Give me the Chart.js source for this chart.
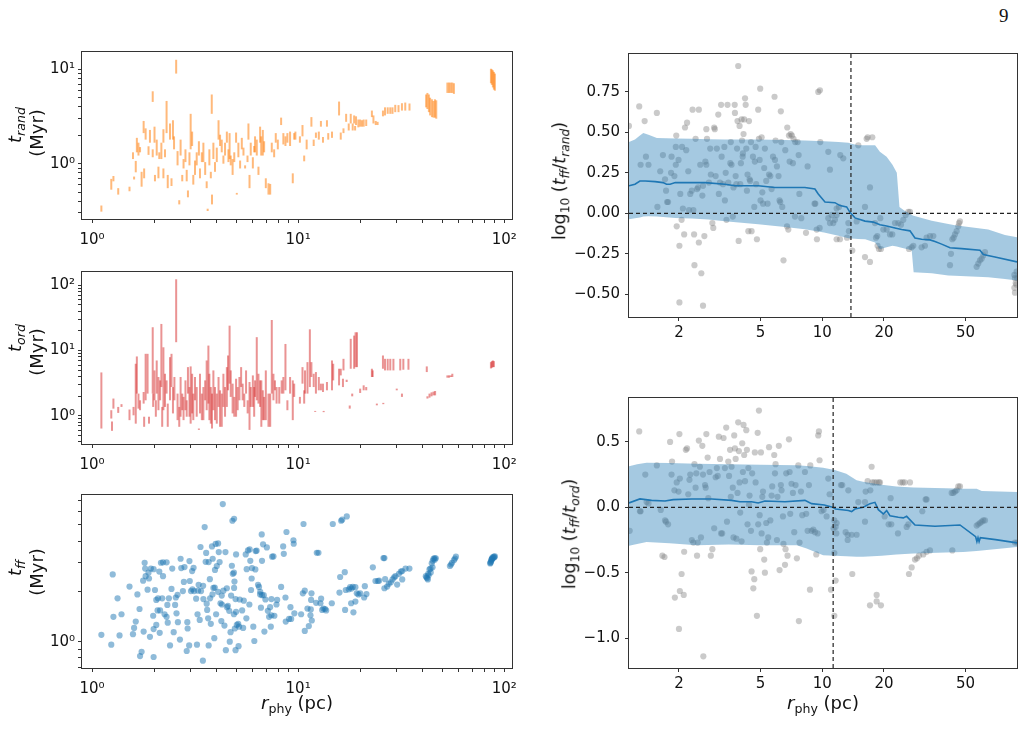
<!DOCTYPE html>
<html>
<head>
<meta charset="utf-8">
<script src="https://cdn.jsdelivr.net/npm/chart.js@4.4.1/dist/chart.umd.min.js"></script>
<style>
  body { margin: 0; background: #fff; width: 1028px; height: 742px; position: relative; overflow: hidden; font-family: 'DejaVu Sans', sans-serif; }
  canvas { position: absolute; }
  .lab { position: absolute; font-size: 18px; color: #111; white-space: nowrap; line-height: 1; transform: translate(-50%, -50%); z-index: 2; }
  .rot { transform: translate(-50%, -50%) rotate(-90deg); }
  .lab sub { font-size: 70%; vertical-align: -0.3em; line-height: 0; }
  .page { position: absolute; left: 999px; top: 5px; font-family: 'Liberation Serif', serif; font-size: 19px; color: #111; }
</style>
</head>
<body>
<div class="page">9</div>

<canvas id="pRand" width="525" height="215" style="left:0;top:40px"></canvas>
<canvas id="pOrd" width="525" height="215" style="left:0;top:260px"></canvas>
<canvas id="pFf" width="525" height="240" style="left:0;top:480px"></canvas>
<canvas id="pRatioRand" width="498" height="330" style="left:530px;top:40px"></canvas>
<canvas id="pRatioOrd" width="498" height="340" style="left:530px;top:380px"></canvas>

<div class="lab rot" style="left:15px;top:125px"><i>t</i><sub><i>rand</i></sub></div>
<div class="lab rot" style="left:37px;top:133px">(Myr)</div>
<div class="lab rot" style="left:15px;top:338px"><i>t</i><sub><i>ord</i></sub></div>
<div class="lab rot" style="left:37px;top:352px">(Myr)</div>
<div class="lab rot" style="left:15px;top:568px"><i>t</i><sub><i>ff</i></sub></div>
<div class="lab rot" style="left:37px;top:572px">(Myr)</div>
<div class="lab" style="left:297px;top:703px"><i>r</i><sub>phy</sub> (pc)</div>

<div class="lab rot" style="left:560px;top:181px;font-size:17.5px">log<sub>10</sub> (<i>t</i><sub><i>ff</i></sub>/<i>t</i><sub><i>rand</i></sub>)</div>
<div class="lab rot" style="left:570px;top:534px;font-size:17.5px">log<sub>10</sub> (<i>t</i><sub><i>ff</i></sub>/<i>t</i><sub><i>ord</i></sub>)</div>
<div class="lab" style="left:823px;top:703px"><i>r</i><sub>phy</sub> (pc)</div>

<script>
// ---- t_rand (orange bars) ----
const randR = [1.11,1.24,1.27,1.34,1.52,1.58,1.60,1.63,1.65,1.68,1.71,1.74,1.78,1.79,1.82,1.88,1.91,1.97,1.97,2.01,
  2.02,2.06,2.10,2.12,2.17,2.22,2.22,2.26,2.30,2.33,2.39,2.43,2.47,2.50,2.56,2.60,2.65,2.69,2.74,2.78,
  2.84,2.88,2.92,2.97,3.01,3.06,3.10,3.16,3.22,3.30,3.34,3.41,3.47,3.54,3.60,3.64,3.71,3.77,3.81,3.82,
  3.88,3.95,4.03,4.11,4.18,4.26,4.34,4.42,4.51,4.59,4.65,4.71,4.81,4.90,5.00,5.04,5.13,5.23,5.33,5.43,
  5.53,5.68,5.74,5.81,5.89,6.03,6.12,6.18,6.30,6.42,6.54,6.62,6.74,6.84,6.97,7.18,7.32,7.45,7.65,7.79,
  7.97,8.27,8.48,8.68,8.87,9.14,9.42,9.57,9.70,10.2,10.5,10.7,11.0,11.6,11.9,12.2,12.6,12.9,13.2,13.8,
  14.0,14.6,15.8,16.1,16.6,17.1,17.6,18.0,18.4,18.7,18.9,19.1,19.6,20.0,20.4,20.8,21.4,22.8,23.2,23.8,
  24.3,25.8,26.4,27.2,28.0,28.7,29.6,30.7,31.9,33.1,34.7,41.8,42.4,43.1,43.7,44.6,45.4,46.1,46.8,53.0,
  54.0,55.0,56.0,57.0,86.2,87.1,88.1,89.1,90.1];
const randLo = [0.31,0.53,0.65,0.47,0.51,1.12,0.68,0.81,1.32,1.22,1.32,0.57,2.11,0.70,1.80,1.24,1.67,4.52,1.17,1.67,
  0.65,1.22,0.70,1.12,1.12,1.67,0.70,1.17,2.11,0.55,1.80,0.58,1.80,1.42,9.03,0.96,0.37,1.22,0.65,0.89,
  1.04,0.65,0.44,0.96,1.42,1.54,0.60,0.76,0.96,1.22,0.70,1.04,1.04,0.76,0.55,0.315,0.96,0.70,3.38,0.37,
  1.12,0.82,1.04,1.80,1.54,1.32,1.00,1.22,1.67,1.04,1.12,0.96,0.76,1.04,1.67,0.47,1.17,0.89,1.42,1.22,
  0.89,1.04,1.80,0.55,1.22,0.89,1.32,1.32,1.22,0.76,1.67,1.22,1.22,1.32,0.55,0.47,0.47,1.32,1.17,1.67,
  1.42,2.57,1.60,1.54,1.67,1.54,0.62,1.80,1.80,1.67,1.95,1.06,1.42,2.47,1.54,1.88,1.80,2.47,1.67,2.47,
  1.80,1.88,3.25,1.80,2.11,2.78,2.25,2.67,2.25,2.67,2.25,2.57,2.43,2.47,2.47,2.47,2.51,3.12,2.67,2.57,
  2.57,3.18,3.25,3.38,3.38,3.38,3.52,3.52,3.66,3.66,3.66,3.96,3.80,3.52,3.25,3.12,3.08,3.08,3.00,5.63,
  5.63,5.63,5.63,5.50,7.13,6.86,6.44,6.10,5.95];
const randHi = [0.36,0.69,0.74,0.55,0.57,1.32,0.73,1.07,1.88,1.67,1.50,0.82,2.84,0.89,2.37,1.53,2.28,5.86,1.42,2.47,
  0.76,1.80,0.93,1.32,1.67,2.32,0.89,1.42,4.63,0.76,2.67,0.70,2.89,1.95,12.65,1.36,0.41,1.80,0.76,1.12,
  1.42,0.86,0.52,1.32,3.38,2.19,0.76,1.08,1.32,1.73,0.89,1.32,1.67,1.04,0.65,0.333,1.42,0.82,5.42,0.47,
  1.67,1.04,1.48,2.89,2.03,1.80,1.22,1.67,2.19,1.42,2.11,1.22,1.12,1.32,2.14,0.49,1.67,1.08,1.88,1.48,
  0.96,1.22,2.67,0.76,1.67,1.17,1.54,1.95,1.80,0.93,2.47,1.95,2.28,1.73,0.70,0.62,0.61,1.67,1.42,2.11,
  1.80,3.08,2.11,1.95,2.11,2.19,0.79,2.11,2.19,1.95,2.57,1.22,1.80,3.12,1.80,2.14,2.19,2.84,1.92,2.89,
  2.11,2.19,4.56,2.14,2.37,3.38,2.67,3.38,2.67,3.25,2.51,3.18,2.94,2.94,2.89,2.94,2.94,3.66,3.25,2.84,
  2.78,3.66,3.96,3.96,3.96,3.96,4.21,4.18,4.38,4.45,4.35,5.42,5.63,5.42,5.01,4.82,4.63,4.82,4.70,7.25,
  7.25,7.25,7.25,7.13,10.16,10.0,9.77,9.40,9.03];

// ---- t_ord (red bars) ----
const ordR = [1.11,1.24,1.25,1.27,1.34,1.39,1.52,1.59,1.63,1.65,1.68,1.71,1.78,1.79,1.82,1.86,1.89,1.97,1.98,2.01,
  2.04,2.06,2.10,2.14,2.17,2.19,2.22,2.26,2.30,2.33,2.39,2.43,2.47,2.51,2.56,2.60,2.65,2.69,2.74,2.78,
  2.84,2.88,2.92,2.97,3.01,3.06,3.10,3.16,3.22,3.30,3.34,3.41,3.47,3.54,3.60,3.67,3.71,3.77,3.82,3.88,
  3.95,4.03,4.11,4.18,4.26,4.34,4.42,4.51,4.57,4.65,4.71,4.81,4.90,5.00,5.09,5.19,5.29,5.38,5.48,5.59,
  5.69,5.81,5.89,6.03,6.12,6.18,6.30,6.42,6.54,6.63,6.74,6.84,6.97,7.18,7.32,7.45,7.59,7.72,7.86,8.10,
  8.32,8.48,8.68,8.87,9.14,9.42,9.57,10.2,10.5,10.7,10.8,11.1,11.4,11.6,11.9,12.1,12.2,12.6,12.9,13.2,
  13.3,13.8,14.6,14.8,15.8,16.1,16.5,16.6,17.2,17.8,18.0,18.3,18.7,19.0,19.3,20.0,20.8,21.4,22.8,23.0,
  24.1,25.8,25.9,26.4,27.2,28.0,29.0,30.1,31.3,31.9,32.4,34.3,42.1,42.4,43.4,44.4,45.4,46.2,53.0,54.0,
  55.0,56.0,86.2,87.1,88.1,89.1];
const ordLo = [0.64,0.91,0.59,1.29,1.11,1.37,0.86,1.02,0.76,2.19,1.29,1.22,1.54,0.68,1.73,2.19,0.76,2.19,1.37,1.73,
  0.97,2.19,1.22,1.73,2.76,0.68,1.22,1.37,2.19,0.68,1.73,2.76,1.09,1.73,13.4,0.86,0.68,0.97,1.22,0.86,
  1.22,0.97,2.19,0.97,0.76,1.09,0.86,1.73,0.97,0.61,1.09,0.86,0.86,1.73,1.22,1.54,0.86,0.76,0.64,1.22,
  0.86,0.76,1.37,0.68,0.68,1.37,0.97,1.37,2.46,3.11,1.95,1.09,0.97,0.97,1.22,1.73,2.76,1.73,1.37,2.19,
  1.09,0.61,1.37,1.37,0.97,1.95,1.73,1.54,1.37,0.68,0.86,0.86,0.86,0.68,0.68,2.19,1.73,2.46,1.54,1.54,
  2.19,2.19,2.46,1.22,2.19,0.86,1.95,1.54,3.11,1.54,2.19,2.19,2.76,3.93,2.76,1.15,2.19,2.46,2.46,2.32,
  1.14,2.46,2.46,3.49,2.93,4.16,2.76,4.96,3.30,1.29,5.26,1.99,5.26,5.57,5.57,2.24,2.46,2.46,3.93,3.93,
  1.45,5.26,1.51,4.96,4.96,4.96,4.96,2.46,4.96,1.95,5.08,5.08,4.68,1.84,1.90,1.99,2.06,2.06,3.84,3.84,
  3.93,3.93,5.32,5.45,5.57,5.57];
const ordHi = [4.62,1.22,0.82,1.84,1.37,1.51,1.25,1.37,6.27,8.11,2.19,1.73,2.32,0.97,8.90,8.90,0.97,22.7,2.19,4.96,
  1.73,7.04,3.93,3.49,25.5,1.37,11.2,4.41,3.49,1.54,7.91,8.90,2.76,3.93,123,2.19,1.37,3.93,2.19,1.95,
  3.49,1.73,5.57,2.76,5.71,4.41,2.19,3.93,2.76,0.64,4.41,2.19,2.76,3.49,7.04,11.9,4.41,2.76,2.19,4.96,
  2.76,2.19,3.93,2.46,2.19,4.41,2.76,5.57,8.39,24.0,4.96,3.11,1.95,3.70,2.76,3.93,5.57,3.11,2.19,4.96,
  1.73,3.30,2.76,4.16,2.76,3.49,16.0,4.41,3.49,3.49,2.46,1.95,4.96,2.19,2.19,29.3,4.41,3.49,2.76,2.76,
  3.49,3.93,12.6,1.73,3.93,3.49,3.11,1.95,5.57,2.46,4.96,6.64,21.1,6.64,4.41,1.19,4.68,3.93,3.11,3.11,
  1.19,3.30,7.04,6.27,5.26,5.26,3.70,7.46,3.57,1.44,15.1,2.19,16.9,19.0,19.0,2.61,2.93,2.76,5.26,4.96,
  1.54,8.39,1.58,7.46,7.46,7.46,7.46,2.61,7.46,2.19,7.46,7.46,5.71,1.99,2.19,2.29,2.35,2.40,4.16,4.16,
  4.16,4.41,6.64,6.88,7.04,6.88];

// ---- t_ff (blue points) ----
const ffR = [1.11,1.24,1.26,1.27,1.33,1.36,1.39,1.52,1.58,1.60,1.63,1.66,1.70,1.71,1.74,1.78,1.77,1.80,1.81,1.82,
  1.86,1.88,1.89,1.91,1.93,1.98,1.99,1.99,1.99,2.02,2.05,2.05,2.08,2.09,2.12,2.13,2.14,2.16,2.19,2.21,
  2.21,2.25,2.30,2.30,2.32,2.33,2.36,2.39,2.43,2.45,2.49,2.53,2.55,2.57,2.60,2.61,2.67,2.69,2.71,2.76,
  2.79,2.81,2.88,2.90,2.91,2.96,2.97,2.98,3.02,3.06,3.07,3.11,3.13,3.20,3.23,3.25,3.27,3.29,3.33,3.36,
  3.38,3.45,3.46,3.47,3.52,3.56,3.58,3.60,3.62,3.66,3.68,3.68,3.73,3.74,3.77,3.82,3.84,3.85,3.88,3.92,
  3.94,3.95,3.98,4.00,4.03,4.09,4.09,4.12,4.16,4.20,4.24,4.26,4.27,4.31,4.34,4.39,4.44,4.46,4.51,4.52,
  4.56,4.63,4.66,4.70,4.73,4.77,4.80,4.82,4.88,4.88,4.89,4.89,4.91,4.93,4.97,4.97,5.00,5.00,5.04,5.12,
  5.14,5.17,5.21,5.35,5.41,5.45,5.57,5.61,5.63,5.71,5.80,5.82,5.86,5.91,5.95,5.97,6.06,6.13,6.20,6.22,
  6.29,6.39,6.46,6.54,6.55,6.60,6.66,6.68,6.68,6.76,6.81,6.86,6.94,7.05,7.13,7.23,7.31,7.37,7.42,7.42,
  7.48,7.59,7.67,7.85,7.91,8.27,8.46,8.52,8.68,8.71,8.78,9.04,9.18,9.25,9.49,9.52,9.59,
  10.34,10.54,10.62,10.77,10.77,11.10,11.27,11.48,11.52,11.56,11.61,11.65,12.23,12.32,12.55,12.83,12.93,13.08,13.27,13.52,
  13.68,14.57,14.73,15.87,15.99,16.17,16.36,16.84,16.90,17.03,17.22,17.62,17.88,18.08,18.15,18.41,18.55,18.96,18.96,19.26,
  19.63,20.00,20.91,21.07,21.46,23.04,23.73,24.36,24.72,25.95,26.23,26.23,26.43,27.04,27.55,28.17,28.71,29.24,29.66,30.24,
  30.83,31.50,31.99,31.99,33.20,34.67,41.66,41.97,42.61,42.75,43.38,43.88,44.89,45.39,45.91,46.57,54.5,55.8,57.0,58.3,
  85.50,86.48,87.10,87.76,89.10,90.1,44.0,44.5,45.0,46.0,42.3,43.0,55.2,57.7,86.0,86.8,88.5,89.5,87.3,85.8];
const ffT = [1.10,0.96,2.53,1.41,1.82,1.09,1.46,2.14,1.11,1.21,1.32,1.92,1.57,0.82,0.87,1.15,2.32,2.97,2.74,2.47,
  2.05,2.59,2.39,1.07,2.74,1.43,2.72,0.81,1.19,2.04,1.78,1.26,1.54,1.82,2.63,1.13,1.54,2.97,1.82,2.47,
  2.99,1.46,1.41,2.99,1.66,1.30,1.82,0.95,2.07,2.74,1.14,1.66,1.84,1.48,1.91,1.31,1.03,3.14,2.76,2.01,
  2.28,2.80,0.88,1.31,1.20,0.95,3.04,2.31,2.01,2.65,2.06,2.77,2.01,1.81,0.96,1.46,2.02,2.19,1.35,3.69,
  2.01,0.77,2.16,1.80,4.86,3.01,3.40,1.69,1.55,1.38,0.95,3.00,2.37,1.82,1.28,3.72,1.92,3.14,2.10,1.05,
  2.11,2.69,3.85,1.46,2.84,3.88,1.99,3.44,3.00,1.70,1.33,1.89,1.67,6.67,2.02,1.25,3.44,0.89,2.09,1.61,
  1.64,1.53,1.00,1.14,1.89,2.85,5.30,2.55,2.59,1.46,5.45,2.10,2.29,1.20,1.80,0.89,3.33,1.51,1.26,1.28,
  0.94,1.23,1.79,1.54,1.21,1.76,3.33,1.38,2.72,3.52,1.67,3.57,3.05,2.04,2.39,2.76,1.23,1.01,2.71,3.49,
  3.51,2.19,2.13,1.92,1.99,1.60,4.39,3.05,1.90,3.83,1.90,1.15,1.79,3.67,1.53,1.41,1.61,1.23,1.44,1.80,
  3.23,3.24,1.43,1.67,1.78,2.13,3.72,3.36,1.84,1.32,4.54,1.37,1.61,1.37,4.05,3.86,1.48,
  1.46,1.95,5.07,2.02,1.16,1.58,1.24,1.44,1.56,1.78,1.95,1.34,1.71,3.41,3.41,1.70,1.81,1.55,1.58,1.57,
  1.54,1.70,5.07,1.97,2.44,5.30,5.38,2.61,1.55,2.04,5.63,2.06,2.12,1.70,2.08,2.13,1.50,2.12,1.74,1.95,
  1.92,1.95,1.84,2.15,1.93,2.79,2.31,2.31,2.32,3.17,3.17,2.09,2.37,2.14,2.22,2.27,2.36,2.43,2.47,2.20,
  2.55,2.63,2.36,2.65,2.74,2.74,2.47,2.43,2.36,2.55,2.71,2.74,2.79,3.14,3.17,3.16,2.84,2.97,3.08,3.23,
  2.94,3.05,3.14,3.20,3.23,3.24,2.60,2.95,3.05,3.10,2.40,2.50,2.90,3.15,3.00,3.10,3.18,3.20,3.12,2.97];

// ---- log10(t_ff/t_rand) ----
const ratioRandR = [1.14,1.28,1.30,1.36,1.38,1.42,1.56,1.57,1.62,1.67,1.71,1.73,1.75,1.77,1.83,1.84,1.90,1.93,1.93,1.94,
  1.95,1.99,2.01,2.03,2.06,2.07,2.09,2.12,2.14,2.17,2.19,2.22,2.24,2.27,2.31,2.33,2.35,2.37,2.38,2.41,
  2.45,2.48,2.50,2.50,2.54,2.57,2.60,2.62,2.66,2.69,2.72,2.72,2.74,2.80,2.84,2.86,2.91,2.94,2.97,2.99,
  3.02,3.06,3.11,3.13,3.17,3.21,3.23,3.28,3.33,3.35,3.38,3.41,3.45,3.48,3.56,3.58,3.61,3.66,3.69,3.74,
  3.75,3.78,3.81,3.84,3.86,3.89,3.91,3.95,3.98,4.01,4.04,4.06,4.09,4.10,4.13,4.16,4.20,4.23,4.26,4.29,
  4.32,4.36,4.39,4.42,4.45,4.49,4.52,4.59,4.66,4.69,4.73,4.76,4.80,4.87,4.91,4.95,4.98,5.00,5.06,5.10,
  5.14,5.21,5.25,5.33,5.41,5.50,5.58,5.66,5.75,5.85,5.88,5.92,6.01,6.12,6.19,6.24,6.28,6.31,6.38,6.47,
  6.60,6.73,6.75,6.83,6.88,6.93,7.01,7.11,7.19,7.24,7.36,7.38,7.58,7.67,7.73,7.90,8.33,8.48,9.17,9.25,
  9.42,9.56,9.74,9.78,2.01,2.62,
  9.39,9.71,10.70,10.90,11.75,12.06,12.24,12.66,10.70,10.90,11.11,11.53,11.75,11.32,11.75,12.20,13.40,13.49,13.20,14.01,
  14.71,14.99,16.16,16.16,16.46,16.65,17.09,17.09,17.54,18.07,18.28,18.55,18.62,18.90,19.33,19.19,19.85,20.61,21.39,21.96,
  22.63,23.49,24.21,24.85,25.51,26.29,26.78,26.48,27.29,27.80,30.52,31.69,32.28,33.53,34.81,42.45,41.97,43.09,43.74,44.40,
  45.23,46.09,46.44,46.96,56.62,57.69,58.79,59.90,61.03,62.18,86.5,87.1,87.8,88.4,87.1,86.5,88.7,89.4];
const ratioRandV = [0.54,0.66,0.30,0.57,0.35,0.30,0.62,0.04,0.26,0.36,0.21,0.14,0.07,0.07,0.25,0.35,0.23,0.30,0.41,0.48,
  -0.08,0.33,-0.20,0.12,-0.04,0.41,0.03,-0.13,0.53,0.39,0.56,0.26,0.02,0.12,0.14,0.64,0.02,-0.13,-0.32,0.46,
  0.15,0.16,0.64,-0.18,0.30,-0.37,0.11,0.17,-0.14,0.32,0.30,0.52,0.46,0.19,0.40,0.24,-0.06,-0.09,0.53,0.52,
  0.23,0.40,0.61,0.12,0.19,0.67,0.35,0.18,0.41,0.08,0.25,-0.04,0.67,0.19,0.31,0.44,0.30,-0.02,0.16,0.67,
  0.62,0.23,0.18,0.40,0.57,0.91,-0.17,0.54,0.18,0.31,0.58,0.45,0.35,0.37,0.49,0.58,0.71,0.67,0.40,0.14,
  0.24,-0.11,0.57,0.21,0.20,0.44,-0.11,0.35,0.04,0.32,0.41,0.18,-0.16,0.64,0.46,0.33,0.77,0.08,0.47,0.13,
  0.06,0.28,0.40,0.20,0.06,0.24,0.23,0.15,0.35,0.72,0.33,0.45,0.29,0.23,0.08,0.07,0.63,0.44,0.04,-0.29,
  0.39,-0.08,0.53,-0.10,0.48,0.32,0.49,0.48,0.31,0.46,-0.02,0.44,0.44,0.36,0.12,-0.03,-0.12,0.29,0.06,0.06,
  -0.16,0.75,0.76,0.44,-0.55,-0.57,
  -0.10,-0.09,0.38,0.27,0.03,0.04,0.36,0.34,-0.03,-0.06,-0.01,-0.04,-0.01,-0.06,-0.16,-0.16,-0.06,-0.11,-0.15,-0.23,
  -0.05,0.42,0.04,-0.27,0.46,0.47,-0.30,0.16,0.47,-0.06,-0.15,-0.14,-0.20,-0.22,-0.22,-0.03,-0.10,-0.10,-0.13,-0.13,
  -0.06,-0.06,-0.07,-0.04,-0.01,0.01,0.01,-0.22,-0.21,-0.20,-0.21,-0.20,-0.15,-0.14,-0.14,-0.25,-0.32,-0.16,-0.15,-0.13,
  -0.11,-0.08,-0.06,-0.05,-0.33,-0.31,-0.29,-0.28,-0.26,-0.24,-0.38,-0.40,-0.43,-0.44,-0.49,-0.46,-0.36,-0.40];
const medRandR = [1.14,1.22,1.29,1.37,1.53,1.67,1.74,1.81,1.92,2.31,2.68,3.35,3.75,4.87,5.88,8.23,9.21,9.56,10.31,11.53,
  12.20,13.15,13.65,14.44,16.16,17.74,19.12,20.61,22.63,24.38,26.78,28.33,30.52,33.53,35.46,38.22,41.97,47.86,58.79,61.03,
  69.57,89.1];
const medRandV = [0.17,0.18,0.20,0.20,0.196,0.19,0.18,0.18,0.19,0.19,0.19,0.18,0.17,0.17,0.16,0.16,0.15,0.12,0.07,0.066,
  0.048,0.04,0.006,-0.028,-0.048,-0.054,-0.07,-0.078,-0.09,-0.10,-0.108,-0.152,-0.16,-0.164,-0.174,-0.19,-0.212,-0.218,-0.228,-0.254,
  -0.27,-0.30];
const bandRandR = [1.14,1.22,1.29,1.34,1.42,1.56,1.92,2.31,2.78,3.35,4.87,6.58,8.23,10.2,12.0,13.4,13.9,15.0,16.2,18.1,
  19.1,20.6,22.0,23.1,23.8,24.9,27.3,27.9,34.2,41.2,44.4,64.5,77.8,89.1];
const bandRandHi = [0.44,0.456,0.48,0.496,0.486,0.466,0.462,0.46,0.458,0.456,0.456,0.453,0.45,0.446,0.44,0.436,0.43,0.42,0.42,0.42,
  0.38,0.35,0.30,0.25,0.04,0.02,-0.01,-0.015,-0.045,-0.065,-0.074,-0.10,-0.134,-0.148];
const bandRandLo = [-0.036,-0.03,-0.025,-0.02,-0.018,-0.02,-0.028,-0.032,-0.038,-0.048,-0.068,-0.084,-0.098,-0.118,-0.138,-0.154,-0.156,-0.158,-0.16,-0.18,
  -0.222,-0.21,-0.20,-0.205,-0.21,-0.215,-0.228,-0.364,-0.37,-0.384,-0.386,-0.395,-0.405,-0.414];
const cutRand = 13.8;

// ---- log10(t_ff/t_ord) ----
const ratioOrdR = [1.15,1.28,1.29,1.30,1.37,1.39,1.42,1.56,1.63,1.66,1.70,1.71,1.73,1.77,1.81,1.84,1.85,1.90,1.91,1.95,
  1.99,2.00,2.01,2.02,2.02,2.06,2.11,2.12,2.16,2.19,2.22,2.25,2.27,2.31,2.35,2.38,2.41,2.43,2.45,2.47,
  2.50,2.53,2.56,2.60,2.62,2.68,2.70,2.72,2.76,2.78,2.82,2.86,2.91,2.97,3.02,3.06,3.09,3.13,3.17,3.21,
  3.25,3.30,3.35,3.40,3.43,3.48,3.51,3.55,3.58,3.61,3.66,3.69,3.72,3.75,3.78,3.81,3.86,3.89,3.92,3.95,
  3.98,4.04,4.07,4.10,4.13,4.16,4.20,4.26,4.29,4.32,4.36,4.39,4.42,4.49,4.52,4.55,4.61,4.66,4.69,4.73,
  4.80,4.84,4.87,4.91,4.95,4.98,5.02,5.06,5.10,5.14,5.21,5.25,5.33,5.37,5.45,5.50,5.58,5.66,5.70,5.83,
  5.88,5.92,6.01,6.05,6.14,6.19,6.28,6.33,6.43,6.47,6.58,6.62,6.67,6.77,6.88,6.93,6.98,7.08,7.19,7.30,
  7.41,7.52,7.64,7.69,7.75,7.87,7.99,8.23,8.35,8.48,8.61,8.71,8.74,8.87,9.04,9.21,9.35,9.49,9.56,9.63,
  9.70,9.92,10.15,2.63,
  10.70,10.86,11.03,11.45,11.62,11.75,11.45,11.62,11.71,11.45,11.36,10.50,12.34,12.52,13.40,13.00,13.30,13.30,13.91,14.01,
  14.71,14.99,16.16,16.16,16.28,16.65,17.15,17.41,17.54,17.94,18.42,18.90,19.12,17.09,18.42,18.42,19.33,20.15,21.07,21.55,
  21.71,23.40,24.02,24.66,25.22,26.78,26.48,27.29,28.33,28.97,29.63,31.11,32.28,33.53,25.8,26.29,30.76,31.93,32.28,42.76,
  43.57,44.40,45.23,46.09,46.96,43.09,56.62,57.69,58.79,59.90,61.03,62.18,87.1,89.4];
const ratioOrdV = [-0.18,0.58,-0.03,-0.03,0.25,0.04,0.03,0.32,-0.02,-0.37,-0.38,-0.10,-0.11,-0.13,0.50,0.25,0.35,0.13,-0.69,0.19,
  0.12,-0.93,0.56,-0.64,0.22,-0.51,-0.67,-0.34,0.44,0.45,0.10,0.21,0.25,-0.25,-0.27,0.33,0.15,0.26,-0.37,-0.27,
  0.51,0.31,-0.23,0.47,0.25,0.17,0.15,0.56,0.38,0.07,0.27,-0.37,-0.32,-0.16,0.23,0.30,0.24,0.54,0.37,-0.20,
  -0.20,0.53,0.30,0.61,-0.11,0.35,0.24,0.44,0.08,0.31,0.15,-0.23,0.55,0.45,0.37,-0.24,0.11,0.65,0.43,0.19,
  -0.04,-0.26,0.49,0.27,0.63,0.40,0.20,0.59,0.44,-0.13,0.30,0.02,0.09,-0.18,-0.49,0.26,-0.62,-0.55,0.42,0.19,
  -0.83,0.57,-0.13,0.74,-0.06,-0.32,0.42,-0.20,0.08,0.12,-0.40,-0.50,-0.12,-0.27,-0.23,0.46,-0.10,0.09,0.16,0.40,
  0.26,0.33,-0.25,0.08,0.47,-0.48,0.17,0.13,-0.07,-0.28,-0.44,-0.32,0.26,-0.37,0.52,0.27,-0.05,0.18,0.11,-0.19,
  0.17,-0.39,0.32,-0.87,-0.27,0.12,-0.06,0.27,-0.05,-0.18,0.17,-0.63,0.32,-0.18,-0.17,-0.19,-0.36,-0.20,0.55,0.58,
  0.36,-0.03,-0.02,-1.14,
  0.22,0.10,-0.63,-0.83,-0.56,-0.12,-0.10,-0.15,-0.20,-0.35,-0.16,-0.07,0.17,0.17,0.13,-0.19,-0.25,-0.21,-0.21,-0.51,
  -0.21,0.04,0.04,-0.11,0.12,0.20,0.13,0.31,0.19,0.19,0.19,0.19,0.19,-0.75,-0.67,-0.72,-0.75,-0.07,-0.13,0.07,
  -0.13,-0.20,0.19,0.19,0.19,0.19,-0.51,-0.46,-0.40,-0.39,-0.37,-0.36,-0.34,-0.33,-0.15,-0.13,-0.03,0.06,0.06,0.11,
  0.11,0.12,0.13,0.16,0.16,-0.33,-0.14,-0.13,-0.12,-0.11,-0.10,-0.10,-0.27,-0.27];
const medOrdR = [1.14,1.29,1.47,1.71,1.875,2.31,2.89,3.61,3.97,4.52,4.87,5.25,6.58,8.23,8.87,10.23,11.11,11.62,13.40,13.91,
  14.43,15.85,17.09,18.07,18.77,19.85,20.61,21.39,23.49,24.85,25.8,28.33,35.46,46.96,56.0,56.8,57.5,58.2,59.0,70.0,
  89.1];
const medOrdV = [0.033,0.064,0.053,0.048,0.059,0.064,0.064,0.053,0.043,0.043,0.033,0.048,0.043,0.053,0.028,0.018,0.003,-0.013,-0.025,-0.033,
  -0.013,0.0,0.028,0.038,-0.018,-0.051,-0.025,-0.064,-0.076,-0.081,-0.069,-0.135,-0.145,-0.135,-0.225,-0.262,-0.232,-0.262,-0.232,-0.247,
  -0.272];
const bandOrdR = [1.14,1.25,1.39,1.8,2.44,3.5,5.0,7.5,8.39,10.1,11.5,13.1,14.7,15.8,19.5,23.0,27.8,40,48.8,56.6,60,89.1];
const bandOrdHi = [0.313,0.33,0.341,0.338,0.333,0.33,0.326,0.321,0.315,0.303,0.285,0.257,0.206,0.195,0.173,0.16,0.152,0.145,0.142,0.142,0.125,0.117];
const bandOrdLo = [-0.295,-0.28,-0.265,-0.275,-0.29,-0.285,-0.29,-0.29,-0.316,-0.366,-0.37,-0.375,-0.378,-0.379,-0.37,-0.36,-0.354,-0.345,-0.341,-0.335,-0.33,-0.303];
const cutOrd = 11.3;

// ---- ticks ----
const leftXTicks = [1,2,3,4,5,6,7,8,9,10,20,30,40,50,60,70,80,90,100];
const randYTicks = [0.3,0.4,0.5,0.6,0.7,0.8,0.9,1,2,3,4,5,6,7,8,9,10];
const ordYTicks = [0.4,0.5,0.6,0.7,0.8,0.9,1,2,3,4,5,6,7,8,9,10,20,30,40,50,60,70,80,90,100];
const ffYTicks = [0.7,0.8,0.9,1,2,3,4,5,6,7];
const powerLabels = {1: '10\u2070', 10: '10\u00b9', 100: '10\u00b2'};
const ratioXTicks = [2,5,10,20,50];
const randRatioTicks = [-0.5,-0.25,0,0.25,0.5,0.75];
const ordRatioTicks = [-1,-0.5,0,0.5];

Chart.defaults.font.family = "'DejaVu Sans', sans-serif";

const frame = {
  id: 'frame',
  afterDraw(chart) {
    const {ctx, chartArea: a} = chart;
    ctx.save();
    ctx.strokeStyle = '#333';
    ctx.lineWidth = 1;
    ctx.strokeRect(Math.round(a.left) - 0.5, Math.round(a.top) - 0.5, Math.round(a.right - a.left) + 1, Math.round(a.bottom - a.top) + 1);
    ctx.restore();
  }
};

function axis(type, min, max, values, fmt, size, isY, pad) {
  return {
    type, min, max, bounds: 'data',
    grid: {drawOnChartArea: false, drawTicks: true, tickLength: 4, color: '#333'},
    border: {display: false},
    ticks: {color: '#111', font: {size: 15}, autoSkip: false, maxRotation: 0, padding: pad, callback: fmt},
    afterBuildTicks: s => { s.ticks = values.filter(v => v >= min && v <= max).map(v => ({value: v})); },
    afterFit: s => { if (isY) s.width = size; else s.height = size; }
  };
}

const powerLabel = v => powerLabels[v] || '';
const minus = (v, d) => (v < 0 ? '\u2212' : '') + Math.abs(v).toFixed(d);

function bars(r, lo, hi, color) {
  const data = [];
  r.forEach((x, i) => { data.push({x, y: lo[i]}, {x, y: hi[i]}, {x, y: null}); });
  return {data, showLine: true, spanGaps: false, borderColor: color, borderWidth: 2, borderCapStyle: 'butt',
    pointRadius: 0, segment: {borderColor: () => undefined}};
}
const pts = (xs, ys) => xs.map((x, i) => ({x, y: ys[i]}));

function baseOptions(pad, right) {
  return {
    responsive: false, animation: false, events: [],
    layout: {padding: {top: pad, right, left: 0, bottom: 0}},
    plugins: {legend: {display: false}, tooltip: {enabled: false}}
  };
}

const leftXMin = 0.894, leftXMax = 109;

function leftPanel(id, datasets, yMin, yMax, yTicks, pad, xHeight) {
  const options = baseOptions(pad, 13);
  options.scales = {
    x: axis('logarithmic', leftXMin, leftXMax, leftXTicks, powerLabel, xHeight, false, 8),
    y: axis('logarithmic', yMin, yMax, yTicks, powerLabel, 82, true, 3)
  };
  return new Chart(document.getElementById(id), {type: 'scatter', data: {datasets}, options, plugins: [frame]});
}

leftPanel('pRand', [bars(randR, randLo, randHi, 'rgba(255,127,14,0.55)')], 0.259, 15.3, randYTicks, 6, 36);
leftPanel('pOrd', [bars(ordR, ordLo, ordHi, 'rgba(214,39,40,0.5)')], 0.371, 159, ordYTicks, 11, 31);
leftPanel('pFf', [{data: pts(ffR, ffT), pointRadius: 3.1, pointBackgroundColor: 'rgba(31,119,180,0.5)',
  pointBorderWidth: 0, pointBorderColor: 'rgba(0,0,0,0)'}], 0.696, 7.56, ffYTicks, 15, 52);

const rxMin = 1.141, rxMax = 89.1;

function ratioPanel(id, cfg) {
  const blue = '#1f77b4';
  const datasets = [
    {data: [{x: rxMin, y: 0}, {x: rxMax, y: 0}], showLine: true, borderColor: '#222', borderWidth: 1.2, borderDash: [4, 3], pointRadius: 0, order: 0},
    {data: [{x: cfg.cut, y: cfg.yMin}, {x: cfg.cut, y: cfg.yMax}], showLine: true, borderColor: '#222', borderWidth: 1.2, borderDash: [4, 3], pointRadius: 0, order: 0},
    {data: pts(cfg.medR, cfg.medV), showLine: true, borderColor: blue, borderWidth: 1.6, pointRadius: 0, order: 1},
    {data: pts(cfg.bandR, cfg.bandHi), showLine: true, borderWidth: 0, pointRadius: 0, fill: '+1', backgroundColor: 'rgba(31,119,180,0.4)', order: 2},
    {data: pts(cfg.bandR, cfg.bandLo), showLine: true, borderWidth: 0, pointRadius: 0, order: 3},
    {data: pts(cfg.ptR, cfg.ptV), pointRadius: 3.1, pointBackgroundColor: 'rgba(128,128,128,0.42)', pointBorderWidth: 0, pointBorderColor: 'rgba(0,0,0,0)', order: 4}
  ];
  const options = baseOptions(cfg.pad, 11);
  options.scales = {
    x: axis('logarithmic', rxMin, rxMax, ratioXTicks, v => String(v), cfg.xHeight, false, 3),
    y: axis('linear', cfg.yMin, cfg.yMax, cfg.ticks, v => minus(v, cfg.dec), 99, true, 5)
  };
  return new Chart(document.getElementById(id), {type: 'scatter', data: {datasets}, options, plugins: [frame]});
}

ratioPanel('pRatioRand', {cut: cutRand, yMin: -0.64, yMax: 0.984, medR: medRandR, medV: medRandV,
  bandR: bandRandR, bandHi: bandRandHi, bandLo: bandRandLo, ptR: ratioRandR, ptV: ratioRandV,
  ticks: randRatioTicks, dec: 2, pad: 6, xHeight: 53});
ratioPanel('pRatioOrd', {cut: cutOrd, yMin: -1.229, yMax: 0.836, medR: medOrdR, medV: medOrdV,
  bandR: bandOrdR, bandHi: bandOrdHi, bandLo: bandOrdLo, ptR: ratioOrdR, ptV: ratioOrdV,
  ticks: ordRatioTicks, dec: 1, pad: 18, xHeight: 52});
</script>
</body>
</html>
